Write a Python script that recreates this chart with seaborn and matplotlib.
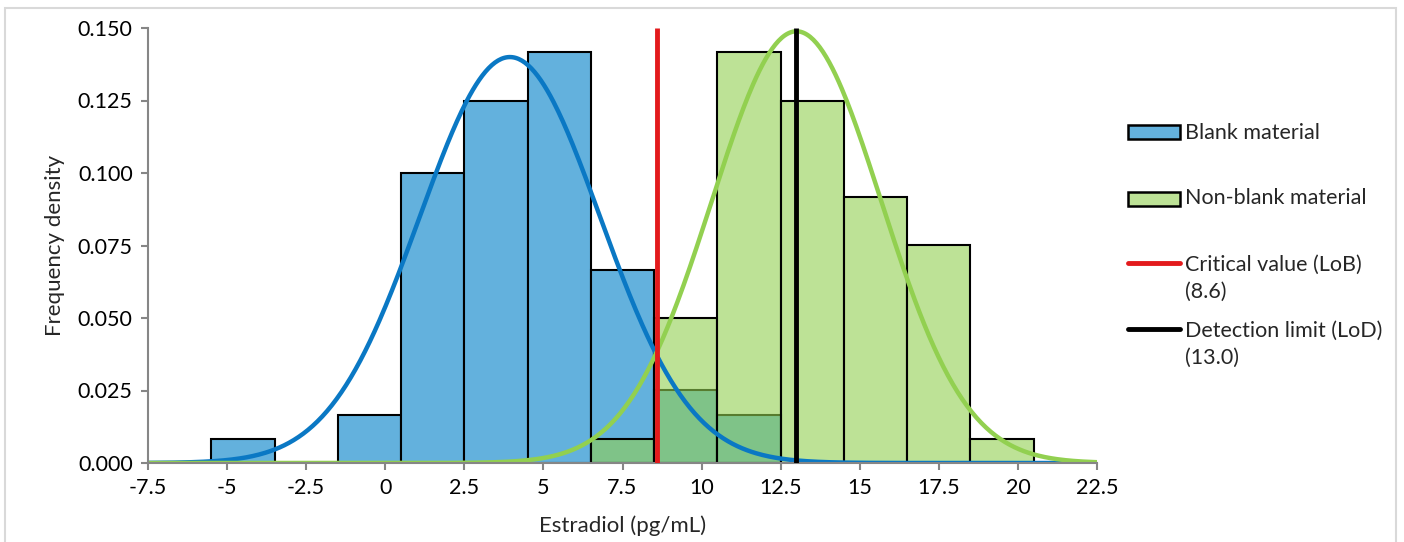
import numpy as np
import pandas as pd
import matplotlib
matplotlib.use("Agg")
import matplotlib.pyplot as plt
import seaborn as sns
from matplotlib.patches import Rectangle
from matplotlib.lines import Line2D

# ---- data ----
bin_edges = [-7.5, -5.5, -3.5, -1.5, 0.5, 2.5, 4.5, 6.5, 8.5, 10.5, 12.5, 14.5, 16.5, 18.5, 20.5, 22.5]
blank_density = [0.0, 0.00833, 0.0, 0.01667, 0.100, 0.125, 0.14167, 0.06667, 0.025, 0.01667, 0.0, 0.0, 0.0, 0.0, 0.0]
nonblank_density = [0.0, 0.0, 0.0, 0.0, 0.0, 0.0, 0.0, 0.00833, 0.050, 0.14167, 0.125, 0.09167, 0.075, 0.00833, 0.0]
blank_mean, blank_sd = 3.94, 2.85
nonblank_mean, nonblank_sd = 13.0, 2.68
critical_value = 8.6
detection_limit = 13.0
xticks = [-7.5, -5, -2.5, 0, 2.5, 5, 7.5, 10, 12.5, 15, 17.5, 20, 22.5]
xtick_labels = ["-7.5", "-5", "-2.5", "0", "2.5", "5", "7.5", "10", "12.5", "15", "17.5", "20", "22.5"]
yticks = [0.0, 0.025, 0.05, 0.075, 0.1, 0.125, 0.15]
ytick_labels = ["0.000", "0.025", "0.050", "0.075", "0.100", "0.125", "0.150"]
legend_labels = ["Blank material", "Non-blank material",
                 "Critical value (LoB)\n(8.6)", "Detection limit (LoD)\n(13.0)"]

BLUE_BAR = "#63B1DD"
BLUE_LINE = "#0A78C4"
GREEN = "#92D050"
RED = "#E31A1C"
GREY = "#868686"
GREEN_FACE = matplotlib.colors.to_rgba(GREEN, 0.6)

sns.set_theme(style="white")
plt.rcParams["font.family"] = ["Lato", "DejaVu Sans"]
plt.rcParams["font.size"] = 15.5

W, H = 1404, 542
fig = plt.figure(figsize=(W / 100, H / 100), dpi=100)
ax = fig.add_axes([148 / W, (H - 463) / H, (1097 - 148) / W, (463 - 28) / H])

centers = [(bin_edges[i] + bin_edges[i + 1]) / 2 for i in range(len(bin_edges) - 1)]
df = pd.DataFrame({"x": centers, "blank": blank_density, "nonblank": nonblank_density})

n0 = len(ax.patches)
sns.histplot(data=df, x="x", weights="blank", bins=bin_edges, stat="count",
             ax=ax, color=BLUE_BAR, alpha=1, edgecolor="black", linewidth=1.5)
blue_patches = ax.patches[n0:]
n1 = len(ax.patches)
sns.histplot(data=df, x="x", weights="nonblank", bins=bin_edges, stat="count",
             ax=ax, color=GREEN, alpha=1, edgecolor="black", linewidth=1.5)
green_patches = ax.patches[n1:]
for p in blue_patches:
    p.set_facecolor(BLUE_BAR)
    p.set_edgecolor("black")
    p.set_visible(p.get_height() > 0)
for p in green_patches:
    p.set_facecolor(GREEN_FACE)
    p.set_edgecolor("black")
    p.set_visible(p.get_height() > 0)

xs = np.linspace(-7.5, 22.5, 600)
def npdf(x, m, s):
    return np.exp(-0.5 * ((x - m) / s) ** 2) / (s * np.sqrt(2 * np.pi))
curves = pd.DataFrame({"x": xs, "blank": npdf(xs, blank_mean, blank_sd),
                       "nonblank": npdf(xs, nonblank_mean, nonblank_sd)})
sns.lineplot(data=curves, x="x", y="blank", ax=ax, color=BLUE_LINE, linewidth=3.2)
sns.lineplot(data=curves, x="x", y="nonblank", ax=ax, color=GREEN, linewidth=3.2)

ax.vlines([critical_value], 0, 0.15, color=RED, linewidth=3.5, zorder=5)
ax.vlines([detection_limit], 0, 0.15, color="black", linewidth=3.5, zorder=5)

ax.set_xlim(-7.5, 22.5)
ax.set_ylim(0, 0.15)
ax.set_xticks(xticks)
ax.set_xticklabels(xtick_labels)
ax.set_yticks(yticks)
ax.set_yticklabels(ytick_labels)
ax.set_xlabel("Estradiol (pg/mL)", fontsize=16, labelpad=12)
ax.set_ylabel("Frequency density", fontsize=16, labelpad=9)
for s in ["top", "right"]:
    ax.spines[s].set_visible(False)
for s in ["left", "bottom"]:
    ax.spines[s].set_color(GREY)
    ax.spines[s].set_linewidth(1.5)
ax.tick_params(axis="both", which="major", direction="out", length=5, width=1.5,
               color=GREY, labelsize=15.5, labelcolor="black", bottom=True, left=True, pad=6)

# ---- legend (drawn in figure pixel positions) ----
def fx(px):
    return px / W
def fy(py):
    return 1 - py / H

hx0, hx1, tx = 1128, 1180, 1185
fig.patches.append(Rectangle((fx(hx0), fy(139)), fx(hx1) - fx(hx0), fy(125) - fy(139),
                             transform=fig.transFigure, facecolor=BLUE_BAR,
                             edgecolor="black", linewidth=1.8))
fig.patches.append(Rectangle((fx(hx0), fy(206)), fx(hx1) - fx(hx0), fy(192) - fy(206),
                             transform=fig.transFigure, facecolor=GREEN_FACE,
                             edgecolor="black", linewidth=1.8))
fig.lines.append(Line2D([fx(hx0), fx(hx1)], [fy(263), fy(263)], transform=fig.transFigure,
                        color=RED, linewidth=3.5, solid_capstyle="round"))
fig.lines.append(Line2D([fx(hx0), fx(hx1)], [fy(329), fy(329)], transform=fig.transFigure,
                        color="black", linewidth=3.5, solid_capstyle="round"))
fig.text(fx(tx), fy(133), legend_labels[0], va="center", ha="left", fontsize=15.5)
fig.text(fx(tx), fy(198), legend_labels[1], va="center", ha="left", fontsize=15.5)
fig.text(fx(tx), fy(278), legend_labels[2], va="center", ha="left", fontsize=15.5, linespacing=1.42)
fig.text(fx(tx), fy(344), legend_labels[3], va="center", ha="left", fontsize=15.5, linespacing=1.42)

fig.patches.append(Rectangle((fx(5), -0.01), fx(1396) - fx(5), fy(8) + 0.01,
                             transform=fig.transFigure, fill=False,
                             edgecolor="#D9D9D9", linewidth=1.5))

fig.savefig("out.png", dpi=100)
